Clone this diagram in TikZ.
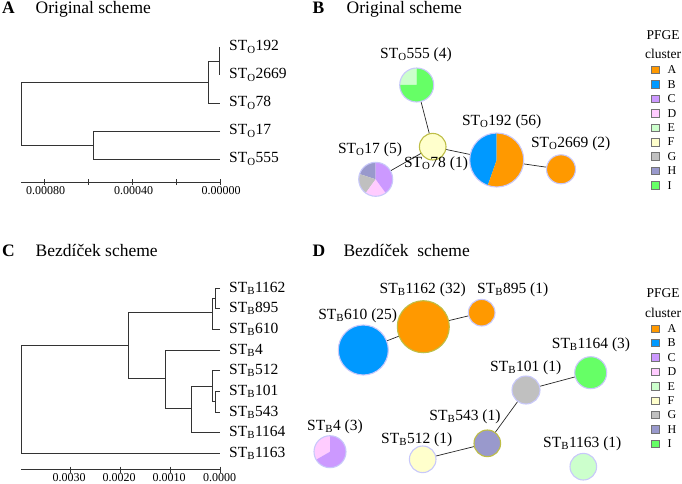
\documentclass[tikz,border=0pt]{standalone}
\usepackage{fontspec}
\setmainfont{Liberation Serif}
\usetikzlibrary{positioning}
\definecolor{clA}{RGB}{255,153,0}
\definecolor{clB}{RGB}{0,153,255}
\definecolor{clC}{RGB}{204,153,255}
\definecolor{clD}{RGB}{255,204,255}
\definecolor{clE}{RGB}{204,255,204}
\definecolor{clF}{RGB}{255,255,204}
\definecolor{clG}{RGB}{192,192,192}
\definecolor{clH}{RGB}{153,153,204}
\definecolor{clI}{RGB}{102,255,102}
\definecolor{rimblue}{RGB}{200,200,250}
\definecolor{rimolive}{RGB}{190,190,70}
\newcommand{\pieslice}[5]{\fill[#5] (#1.center) -- ++({-(#3)}:#2) arc[start angle={-(#3)},end angle={-(#4)},radius=#2] -- cycle;}
\begin{document}
\begin{tikzpicture}[x=1pt,y=-1pt,
	tree/.style={draw=black!80,line width=0.9pt},
	link/.style={draw=black!85,line width=0.7pt},
	ring/.style={draw=rimblue,line width=1.1pt},
	oring/.style={draw=rimolive,line width=1.1pt},
	spot/.style={circle,inner sep=0pt,minimum size=#1},
	title/.style={font=\fontsize{17.5}{20}\selectfont,inner sep=0pt},
	lbl/.style={font=\fontsize{15.5}{18}\selectfont,inner sep=0pt},
	tick/.style={font=\fontsize{12}{14}\selectfont,inner sep=0pt},
	head/.style={font=\fontsize{13.5}{16}\selectfont,inner sep=0pt},
	key/.style={font=\fontsize{12}{14}\selectfont,inner sep=0pt},
	swatch/.style={draw=black!55,line width=0.5pt,minimum size=7.5pt,inner sep=0pt}]
	\useasboundingbox (0,0) rectangle (682,484);
	% A
	\node[title,anchor=base west] at (2,13.5) {\textbf{A}};
	\node[title,anchor=base west] at (35.5,13.5) {Original scheme};
	\draw[tree] (219,47) -- (219,75);
	\draw[tree] (219,61) -| (208,103) -- (220,103);
	\draw[tree] (208,82) -| (21,145) -- (93,145);
	\draw[tree] (220,131) -| (93,159) -- (220,159);
	\draw[tree] (21,182) -- (220,182);
	\foreach \x in {44,88,132,176,220} \draw[tree] (\x,179) -- (\x,185);
	\node[tick] at (45.5,191) {0.00080};
	\node[tick] at (133.5,191) {0.00040};
	\node[tick] at (221,191) {0.00000};
	\node[lbl,anchor=west] at (229,47) {ST\textsubscript{O}192};
	\node[lbl,anchor=west] at (229,75) {ST\textsubscript{O}2669};
	\node[lbl,anchor=west] at (229,103) {ST\textsubscript{O}78};
	\node[lbl,anchor=west] at (229,131) {ST\textsubscript{O}17};
	\node[lbl,anchor=west] at (229,159) {ST\textsubscript{O}555};
	% B
	\node[title,anchor=base west] at (312.5,13.5) {\textbf{B}};
	\node[title,anchor=base west] at (346.5,13.5) {Original scheme};
	\node[spot=34] (o555) at (416.7,85) {};
	\node[spot=26.6] (o78) at (432.7,146.7) {};
	\node[spot=54] (o192) at (496.7,160) {};
	\node[spot=29] (o2669) at (561,169.3) {};
	\node[spot=34] (o17) at (375.7,179.3) {};
	\draw[link] (o555) -- (o78);
	\draw[link] (o78) -- (o17);
	\draw[link] (o78) -- (o192);
	\draw[link] (o192) -- (o2669);
	\pieslice{o555}{17}{90}{180}{clE}
	\pieslice{o555}{17}{180}{450}{clI}
	\draw[ring] (o555.center) circle[radius=17];
	\fill[clF] (o78.center) circle[radius=13.3];
	\draw[oring] (o78.center) circle[radius=13.3];
	\pieslice{o192}{27}{90}{250.7}{clB}
	\pieslice{o192}{27}{250.7}{450}{clA}
	\draw[ring] (o192.center) circle[radius=27];
	\fill[clA] (o2669.center) circle[radius=14.5];
	\draw[ring] (o2669.center) circle[radius=14.5];
	\pieslice{o17}{17}{90}{162}{clH}
	\pieslice{o17}{17}{162}{234}{clG}
	\pieslice{o17}{17}{234}{306}{clD}
	\pieslice{o17}{17}{306}{450}{clC}
	\draw[ring] (o17.center) circle[radius=17];
	\node[lbl] at (416,55) {ST\textsubscript{O}555 (4)};
	\node[lbl] at (436,164) {ST\textsubscript{O}78 (1)};
	\node[lbl] at (501.7,121.7) {ST\textsubscript{O}192 (56)};
	\node[lbl] at (570.7,144) {ST\textsubscript{O}2669 (2)};
	\node[lbl] at (370,150) {ST\textsubscript{O}17 (5)};
	\node[head] at (663,35) {PFGE};
	\node[head] at (663,54) {cluster};
	\foreach \k [count=\i from 0] in {A,B,C,D,E,F,G,H,I}{
		\node[swatch,fill=cl\k] (kb\k) at (655,70+14.4*\i) {};
		\node[key,right=8.5pt of kb\k] {\k};
	}
	% C
	\node[title,anchor=base west] at (2,256.7) {\textbf{C}};
	\node[title,anchor=base west] at (35.5,256.7) {Bezdíček scheme};
	\draw[tree] (220,288) -| (215,308.5) -- (220,308.5);
	\draw[tree] (215,298) -| (212,329) -- (220,329);
	\draw[tree] (212,312) -| (128,378) -- (165,378);
	\draw[tree] (220,350) -| (165,408) -- (191,408);
	\draw[tree] (212,386) -| (191,432.5) -- (220,432.5);
	\draw[tree] (220,370.5) -| (212,401.5) -- (215,401.5);
	\draw[tree] (220,391) -| (215,412) -- (220,412);
	\draw[tree] (128,345) -| (21,453.5) -- (220,453.5);
	\draw[tree] (21,469.5) -- (220,469.5);
	\foreach \x in {70,120,170,220} \draw[tree] (\x,466.5) -- (\x,472.5);
	\node[tick] at (69,478) {0.0030};
	\node[tick] at (119,478) {0.0020};
	\node[tick] at (169,478) {0.0010};
	\node[tick] at (219.5,478) {0.0000};
	\node[lbl,anchor=west] at (229,288) {ST\textsubscript{B}1162};
	\node[lbl,anchor=west] at (229,308.5) {ST\textsubscript{B}895};
	\node[lbl,anchor=west] at (229,329) {ST\textsubscript{B}610};
	\node[lbl,anchor=west] at (229,350) {ST\textsubscript{B}4};
	\node[lbl,anchor=west] at (229,370.5) {ST\textsubscript{B}512};
	\node[lbl,anchor=west] at (229,391) {ST\textsubscript{B}101};
	\node[lbl,anchor=west] at (229,412) {ST\textsubscript{B}543};
	\node[lbl,anchor=west] at (229,432.5) {ST\textsubscript{B}1164};
	\node[lbl,anchor=west] at (229,453.5) {ST\textsubscript{B}1163};
	% D
	\node[title,anchor=base west] at (312.5,256.7) {\textbf{D}};
	\node[title,anchor=base west] at (343.3,256.7) {Bezdíček\ \ scheme};
	\node[spot=50] (b610) at (363.3,350) {};
	\node[spot=52] (b1162) at (423.3,326.7) {};
	\node[spot=26.6] (b895) at (481.7,312.7) {};
	\node[spot=32] (b1164) at (590.7,372.7) {};
	\node[spot=28] (b101) at (526,390) {};
	\node[spot=26.6] (b543) at (487.3,443.3) {};
	\node[spot=26.6] (b512) at (422.7,459.3) {};
	\node[spot=26.6] (b1163) at (583.3,466.7) {};
	\node[spot=32] (b4) at (330,451.7) {};
	\draw[link] (b610) -- (b1162);
	\draw[link] (b1162) -- (b895);
	\draw[link] (b101) -- (b1164);
	\draw[link] (b101) -- (b543);
	\draw[link] (b543) -- (b512);
	\fill[clB] (b610.center) circle[radius=25];
	\draw[ring] (b610.center) circle[radius=25];
	\fill[clA] (b1162.center) circle[radius=26];
	\draw[oring] (b1162.center) circle[radius=26];
	\fill[clA] (b895.center) circle[radius=13.3];
	\draw[ring] (b895.center) circle[radius=13.3];
	\fill[clI] (b1164.center) circle[radius=16];
	\draw[ring] (b1164.center) circle[radius=16];
	\fill[clG] (b101.center) circle[radius=14];
	\draw[ring] (b101.center) circle[radius=14];
	\fill[clH] (b543.center) circle[radius=13.3];
	\draw[oring] (b543.center) circle[radius=13.3];
	\fill[clF] (b512.center) circle[radius=13.3];
	\draw[ring] (b512.center) circle[radius=13.3];
	\fill[clE] (b1163.center) circle[radius=13.3];
	\draw[ring] (b1163.center) circle[radius=13.3];
	\pieslice{b4}{16}{90}{210}{clD}
	\pieslice{b4}{16}{210}{450}{clC}
	\draw[ring] (b4.center) circle[radius=16];
	\node[lbl] at (357.7,316) {ST\textsubscript{B}610 (25)};
	\node[lbl] at (422.7,290) {ST\textsubscript{B}1162 (32)};
	\node[lbl] at (512.7,290) {ST\textsubscript{B}895 (1)};
	\node[lbl] at (591,345) {ST\textsubscript{B}1164 (3)};
	\node[lbl] at (525.7,367.7) {ST\textsubscript{B}101 (1)};
	\node[lbl] at (465,416.7) {ST\textsubscript{B}543 (1)};
	\node[lbl] at (416.7,439.3) {ST\textsubscript{B}512 (1)};
	\node[lbl] at (582.3,443.3) {ST\textsubscript{B}1163 (1)};
	\node[lbl] at (335,426.7) {ST\textsubscript{B}4 (3)};
	\node[head] at (663,293.5) {PFGE};
	\node[head] at (663,312.5) {cluster};
	\foreach \k [count=\i from 0] in {A,B,C,D,E,F,G,H,I}{
		\node[swatch,fill=cl\k] (kd\k) at (655,328.5+14.4*\i) {};
		\node[key,right=8.5pt of kd\k] {\k};
	}
\end{tikzpicture}
\end{document}
